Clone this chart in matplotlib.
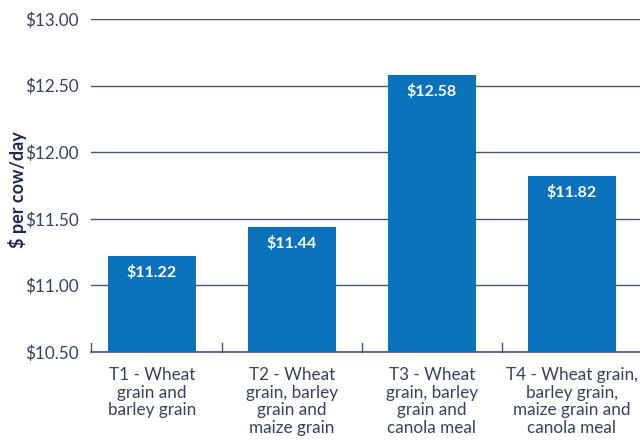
import matplotlib.pyplot as plt

# ---- data ----
categories = [
    "T1 - Wheat\ngrain and\nbarley grain",
    "T2 - Wheat\ngrain, barley\ngrain and\nmaize grain",
    "T3 - Wheat\ngrain, barley\ngrain and\ncanola meal",
    "T4 - Wheat grain,\nbarley grain,\nmaize grain and\ncanola meal",
]
costs = [11.22, 11.44, 12.58, 11.82]
y_ticks = [10.5, 11.0, 11.5, 12.0, 12.5, 13.0]

BAR = "#0A72BA"
GRID = "#4a5573"
TEXT = "#36425f"
NAVY = "#1b2a4e"

plt.rcParams['font.family'] = ['Lato', 'DejaVu Sans']

fig = plt.figure(figsize=(6.4, 4.41), dpi=100)
ax = fig.add_axes([91 / 640, 1 - 352 / 441, 1 - 91 / 640, (352 - 19) / 441])

x = list(range(len(categories)))
bars = ax.bar(x, costs, width=0.63, color=BAR, zorder=3)

for b, v in zip(bars, costs):
    ax.text(b.get_x() + b.get_width() / 2, v - 0.125, f"${v:.2f}",
            ha='center', va='center', color='white', fontsize=11.5,
            fontweight='bold', zorder=4)

ax.set_ylim(10.5, 13.0)
ax.set_xlim(-0.436, 3.486)
ax.set_yticks(y_ticks)
ax.set_yticklabels([f"${t:.2f}" for t in y_ticks])
ax.yaxis.grid(True, color=GRID, linewidth=1.0, zorder=0)
ax.tick_params(axis='y', length=0, pad=9, labelsize=12.3, labelcolor=TEXT)

# category labels
ax.set_xticks(x)
ax.set_xticklabels(categories, fontsize=12.3, color=TEXT, linespacing=1.12)
ax.tick_params(axis='x', length=0, pad=11)

# small separator ticks on the baseline
for sep in [-0.436, 0.5, 1.5, 2.5]:
    ax.plot([sep, sep], [10.5, 10.5 + 0.065], color=GRID, linewidth=1.0,
            zorder=2, clip_on=False)

for s in ['top', 'right', 'left']:
    ax.spines[s].set_visible(False)
ax.spines['bottom'].set_color(GRID)
ax.spines['bottom'].set_linewidth(1.2)

fig.text(18 / 640, 1 - 190 / 441, "$ per cow/day", rotation=90, ha='center',
         va='center', fontsize=13, fontweight='bold', color=NAVY)

fig.savefig("out.png", dpi=100)
